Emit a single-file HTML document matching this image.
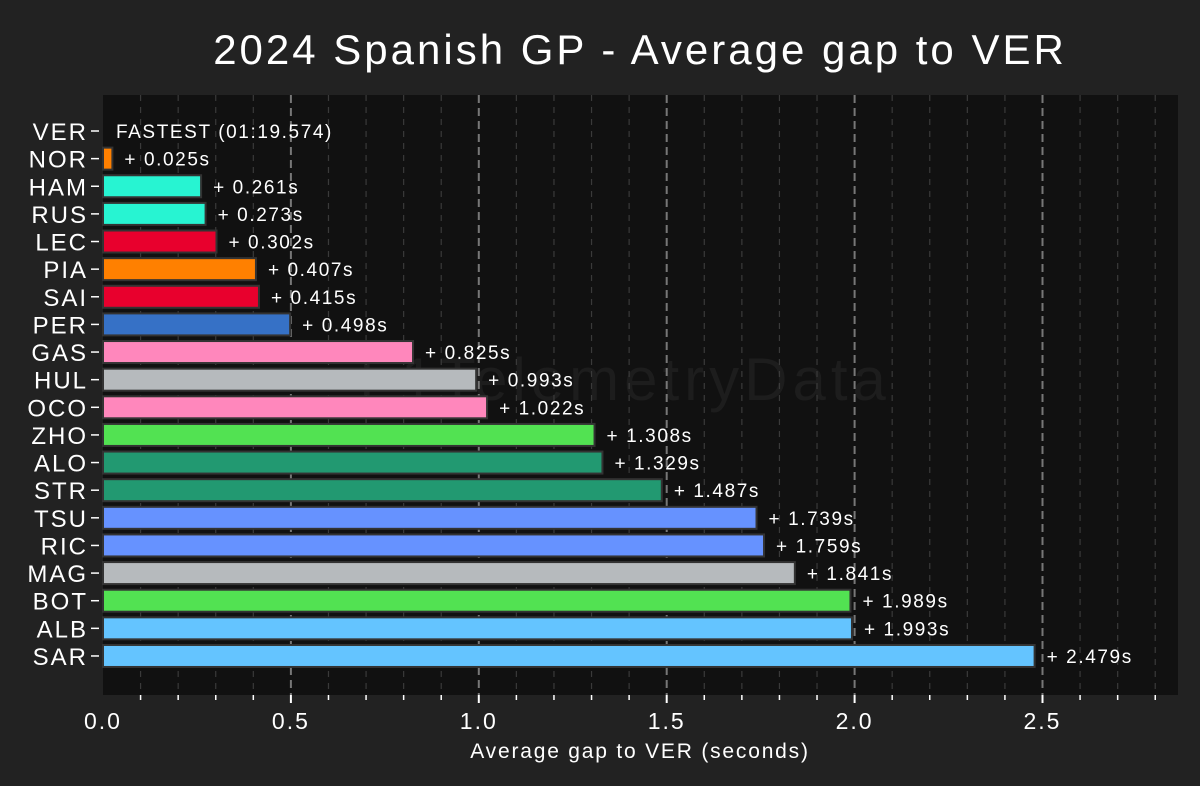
<!DOCTYPE html>
<html><head><meta charset="utf-8"><style>
body{margin:0;background:#222222;width:1200px;height:781px;overflow:hidden;font-family:"Liberation Sans",sans-serif}
svg text{font-family:"Liberation Sans",sans-serif;fill:#fff}
</style></head><body>
<svg id="chart" width="1200" height="781" xmlns="http://www.w3.org/2000/svg">
<rect width="1200" height="781" fill="#222222"/>
<text x="640" y="64" font-size="42" letter-spacing="3" text-anchor="middle">2024 Spanish GP - Average gap to VER</text>
<rect x="103" y="95" width="1075" height="600" fill="#111111"/>
<text x="625" y="400" font-size="60" letter-spacing="5" text-anchor="middle" style="fill:#1d1d1d">F1TelemetryData</text>
<g id="grid"></g><g id="bars"></g><g id="axes"></g>
<text x="640" y="758" font-size="21" letter-spacing="1.8" text-anchor="middle">Average gap to VER (seconds)</text>
</svg>
<script>
const drivers=["VER","NOR","HAM","RUS","LEC","PIA","SAI","PER","GAS","HUL","OCO","ZHO","ALO","STR","TSU","RIC","MAG","BOT","ALB","SAR"];
const gaps=[0,0.025,0.261,0.273,0.302,0.407,0.415,0.498,0.825,0.993,1.022,1.308,1.329,1.487,1.739,1.759,1.841,1.989,1.993,2.479];
const colors=["#3671c6","#ff8000","#27f4d2","#27f4d2","#e8002d","#ff8000","#e8002d","#3671c6","#ff87bc","#b6babd","#ff87bc","#52e252","#229971","#229971","#6692ff","#6692ff","#b6babd","#52e252","#64c4ff","#64c4ff"];
const xTicks=[0,0.5,1.0,1.5,2.0,2.5];
const fastestLabel="FASTEST (01:19.574)";
const NS="http://www.w3.org/2000/svg";
const x=v=>103+v*375.8;
const y=i=>131+i*27.63;
function mk(tag,attrs,parent){const e=document.createElementNS(NS,tag);for(const k in attrs)e.setAttribute(k,attrs[k]);parent.appendChild(e);return e;}
const grid=document.getElementById('grid'),bars=document.getElementById('bars'),axes=document.getElementById('axes');
for(let k=1;k<=28;k++){const v=k/10;const major=k%5===0;
 const l=mk('line',{x1:x(v),x2:x(v),y1:95,y2:695,stroke:major?'#777':'#3a3a3a','stroke-width':major?2:1.2,'stroke-dasharray':major?'8,5':'6,6'},grid);
 
 const t=mk('line',{x1:x(v),x2:x(v),y1:695,y2:major?703:700,stroke:'#fff','stroke-width':major?2:1.5},axes);
 }
xTicks.forEach(v=>{const t=mk('text',{x:x(v),y:729,'font-size':23,'letter-spacing':2,'text-anchor':'middle'},axes);t.textContent=v.toFixed(1);
 });
drivers.forEach((d,i)=>{
 const lab=mk('text',{x:88,y:y(i)+9,'font-size':24,'letter-spacing':2,'text-anchor':'end'},axes);lab.textContent=d;
 
 mk('line',{x1:91,x2:99,y1:y(i),y2:y(i),stroke:'#fff','stroke-width':1.5},axes);
 if(gaps[i]>0){const r=mk('rect',{x:x(0),y:y(i)-11,width:x(gaps[i])-x(0),height:22,fill:colors[i],stroke:'#333','stroke-width':2},bars);
  }
 const t=mk('text',{x:gaps[i]>0?x(gaps[i])+12:116,y:y(i)+7,'font-size':19,'letter-spacing':1.6},bars);
 t.textContent=gaps[i]>0?'+ '+gaps[i].toFixed(3)+'s':fastestLabel;
 
});
</script>
</body></html>
